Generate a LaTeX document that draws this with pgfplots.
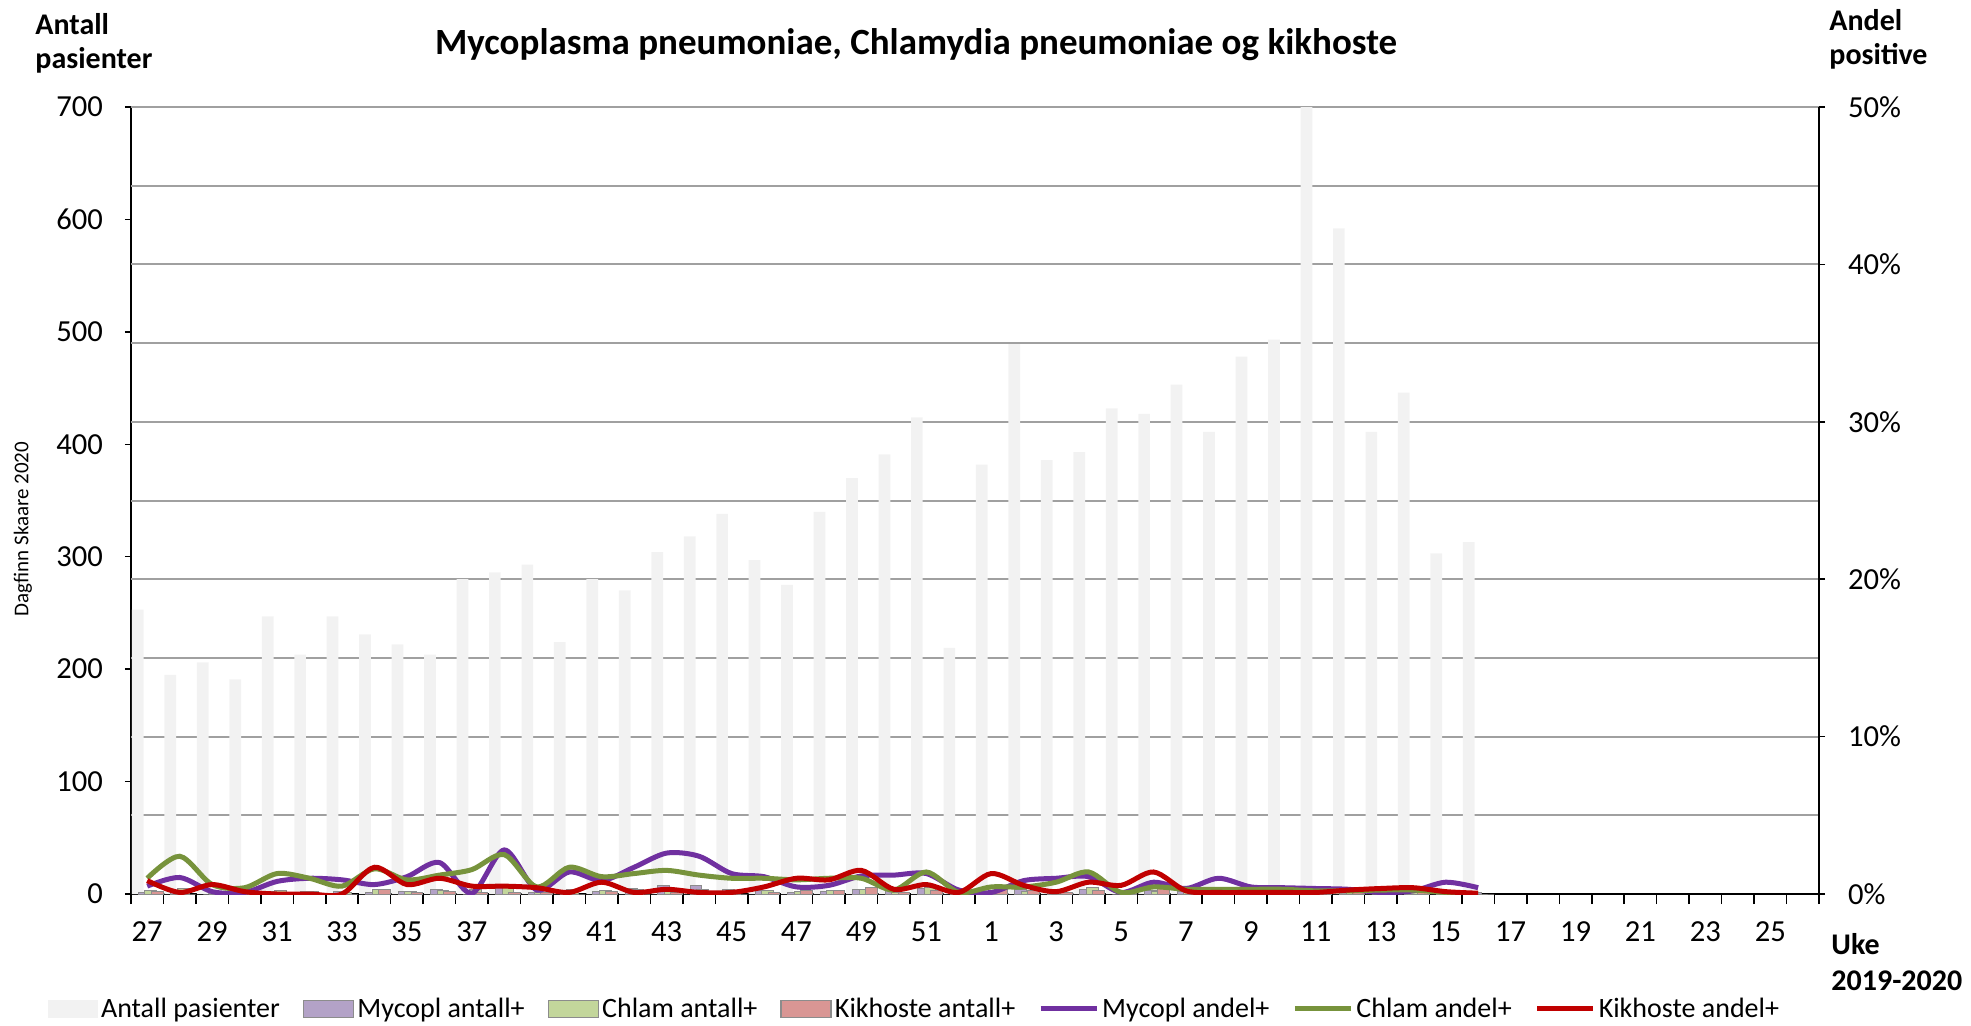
\documentclass[border=0pt]{standalone}
\usepackage{pgfplots}
\usepackage{pgfplotstable}
\pgfplotsset{compat=1.18}
\usepackage{fontspec}
\setmainfont{Carlito}
\definecolor{cTot}{HTML}{F2F2F2}
\definecolor{cMycB}{HTML}{B3A2C7}
\definecolor{cChlB}{HTML}{C3D69B}
\definecolor{cKikB}{HTML}{D99694}
\definecolor{cMyc}{HTML}{7030A0}
\definecolor{cChl}{HTML}{77933C}
\definecolor{cKik}{HTML}{C00000}
\definecolor{gridg}{HTML}{A0A0A0}
\definecolor{barline}{HTML}{8C8C8C}
\pgfplotsset{
  boxleg/.style={legend image code/.code={\draw[##1] (0pt,-4.3pt) rectangle (25pt,4.3pt);}},
  fillleg/.style={legend image code/.code={\path[fill=cTot, draw=none] (0pt,-4.3pt) rectangle (25pt,4.3pt);}},
  lineleg/.style={legend image code/.code={\draw[##1] (0pt,0pt) -- (28pt,0pt);}},
}
\pgfplotstableread{
k tot myc chl kik mycp chlp kikp
0 253 1 3 2 0.5 1.0 0.85
1 195 2 5 0 1.05 2.4 0.1
2 206 0 1 1 0.15 0.6 0.6
3 191 0 1 0 0.1 0.4 0.15
4 247 2 3 0 0.8 1.3 0.0
5 213 2 2 0 1.0 1.0 0.0
6 247 2 1 0 0.9 0.5 0.0
7 231 1 4 4 0.6 1.6 1.7
8 222 2 2 1 1.1 0.9 0.6
9 213 4 3 2 2.0 1.2 1.0
10 280 0 4 1 0.05 1.55 0.5
11 286 8 7 1 2.8 2.5 0.5
12 293 1 1 1 0.25 0.45 0.4
13 224 3 4 0 1.4 1.7 0.1
14 280 2 3 2 0.85 1.1 0.75
15 270 5 4 0 1.7 1.3 0.1
16 304 8 5 1 2.6 1.5 0.3
17 318 8 4 0 2.4 1.2 0.1
18 338 4 3 0 1.3 1.0 0.1
19 297 3 3 1 1.1 1.0 0.45
20 275 1 2 3 0.45 0.9 1.0
21 340 2 3 3 0.55 1.0 0.9
22 370 4 4 6 1.15 1.0 1.5
23 391 5 1 1 1.2 0.25 0.3
24 424 5 6 3 1.3 1.4 0.6
25 219 1 0 0 0.25 0.1 0.1
26 382 0 2 5 0.1 0.45 1.3
27 489 4 2 3 0.85 0.45 0.55
28 386 4 3 1 1.0 0.75 0.15
29 393 4 6 3 1.1 1.4 0.75
30 432 0 0 2 0.1 0.1 0.55
31 427 3 2 6 0.75 0.45 1.4
32 453 2 1 1 0.35 0.3 0.2
33 411 4 1 0 1.0 0.3 0.1
34 478 2 1 0 0.45 0.3 0.1
35 493 2 1 0 0.4 0.3 0.1
36 700 2 1 1 0.35 0.2 0.1
37 592 2 1 1 0.3 0.2 0.25
38 411 0 1 1 0.1 0.25 0.35
39 446 1 1 2 0.2 0.25 0.4
40 303 2 0 0 0.75 0.1 0.15
41 313 1 0 0 0.4 0.0 0.05
}\data
\begin{document}
\begin{tikzpicture}
\path[use as bounding box] (0,0) rectangle (985.5pt,512.5pt);
% left axis: bars
\begin{axis}[
  at={(65.5pt,65.5pt)}, anchor=south west,
  scale only axis, width=844pt, height=393.5pt,
  xmin=-0.5, xmax=51.5, ymin=0, ymax=700,
  axis lines*=left,
  axis line style={-, black, line width=0.75pt},
  tick align=outside,
  xtick={0,2,...,50},
  xticklabels={27,29,31,33,35,37,39,41,43,45,47,49,51,1,3,5,7,9,11,13,15,17,19,21,23,25},
  major x tick style={draw=none},
  minor xtick={-0.5,0.5,...,51.5},
  minor tick length=5pt,
  minor x tick style={black, line width=0.75pt},
  ytick={0,100,...,700},
  major tick length=3pt,
  ytick style={black, line width=0.75pt},
  extra y ticks={70,140,...,700},
  extra y tick labels={},
  extra y tick style={grid=major, major tick length=0pt, tick style={draw=none}},
  major grid style={draw=gridg, line width=1pt},
  tick label style={font=\fontsize{15.3}{17}\selectfont},
  /pgf/number format/assume math mode=true,
  yticklabel style={xshift=-7.5pt},
  xticklabel style={yshift=-7.5pt},
]
\addplot[ybar, bar width=0.36, bar shift=-0.29, fill=cTot, draw=none] table[x=k,y=tot]{\data};
\addplot[ybar, bar width=0.36, bar shift=-0.09, fill=cMycB, draw=barline, line width=0.5pt] table[x=k,y=myc]{\data};
\addplot[ybar, bar width=0.36, bar shift=0.11, fill=cChlB, draw=barline, line width=0.5pt] table[x=k,y=chl]{\data};
\addplot[ybar, bar width=0.36, bar shift=0.31, fill=cKikB, draw=barline, line width=0.5pt] table[x=k,y=kik]{\data};
\end{axis}
% right axis: percentages
\begin{axis}[
  at={(65.5pt,65.5pt)}, anchor=south west,
  scale only axis, width=844pt, height=393.5pt,
  xmin=-0.5, xmax=51.5, ymin=0, ymax=50,
  axis x line=none,
  axis y line*=right,
  axis line style={-, black, line width=0.75pt},
  tick align=outside,
  ytick={0,10,...,50},
  yticklabel={\pgfmathprintnumber{\tick}\%},
  major tick length=3pt,
  ytick style={black, line width=0.75pt},
  tick label style={font=\fontsize{15.3}{17}\selectfont},
  /pgf/number format/assume math mode=true,
  yticklabel style={xshift=8pt},
  legend columns=7,
  legend style={at={(0.4645,-0.146)}, anchor=center, draw=none, fill=none,
    font=\fontsize{14}{16}\selectfont,
    nodes={inner sep=1.5pt},
    /tikz/every even column/.append style={column sep=10pt}},
]
\addlegendimage{fillleg, fill=cTot, draw=none}
\addlegendentry{Antall pasienter}
\addlegendimage{boxleg, fill=cMycB, draw=barline, line width=0.75pt}
\addlegendentry{Mycopl antall+}
\addlegendimage{boxleg, fill=cChlB, draw=barline, line width=0.75pt}
\addlegendentry{Chlam antall+}
\addlegendimage{boxleg, fill=cKikB, draw=barline, line width=0.75pt}
\addlegendentry{Kikhoste antall+}
\addplot[smooth, cMyc, line width=2.5pt, lineleg] table[x=k,y=mycp]{\data};
\addlegendentry{Mycopl andel+}
\addplot[smooth, cChl, line width=2.5pt, lineleg] table[x=k,y=chlp]{\data};
\addlegendentry{Chlam andel+}
\addplot[smooth, cKik, line width=2.5pt, lineleg] table[x=k,y=kikp]{\data};
\addlegendentry{Kikhoste andel+}
\end{axis}
% texts
\node[anchor=base, font=\fontsize{18.5}{21}\selectfont\bfseries] at (458pt,485pt) {Mycoplasma pneumoniae, Chlamydia pneumoniae og kikhoste};
\node[anchor=base west, inner sep=0pt, font=\fontsize{15}{18}\selectfont\bfseries] at (17.5pt,495pt) {Antall};
\node[anchor=base west, inner sep=0pt, font=\fontsize{15}{18}\selectfont\bfseries] at (17.5pt,478pt) {pasienter};
\node[anchor=base west, inner sep=0pt, font=\fontsize{15}{18}\selectfont\bfseries] at (914.5pt,497pt) {Andel};
\node[anchor=base west, inner sep=0pt, font=\fontsize{15}{18}\selectfont\bfseries] at (914.5pt,480pt) {positive};
\node[anchor=base west, inner sep=0pt, font=\fontsize{15}{18}\selectfont\bfseries] at (915.5pt,35.5pt) {Uke};
\node[anchor=base west, inner sep=0pt, font=\fontsize{15}{18}\selectfont\bfseries] at (915.5pt,17.5pt) {2019-2020};
\node[rotate=90, inner sep=0pt, font=\fontsize{10.5}{12}\selectfont] at (11.5pt,248pt) {Dagfinn Skaare 2020};
\end{tikzpicture}
\end{document}
